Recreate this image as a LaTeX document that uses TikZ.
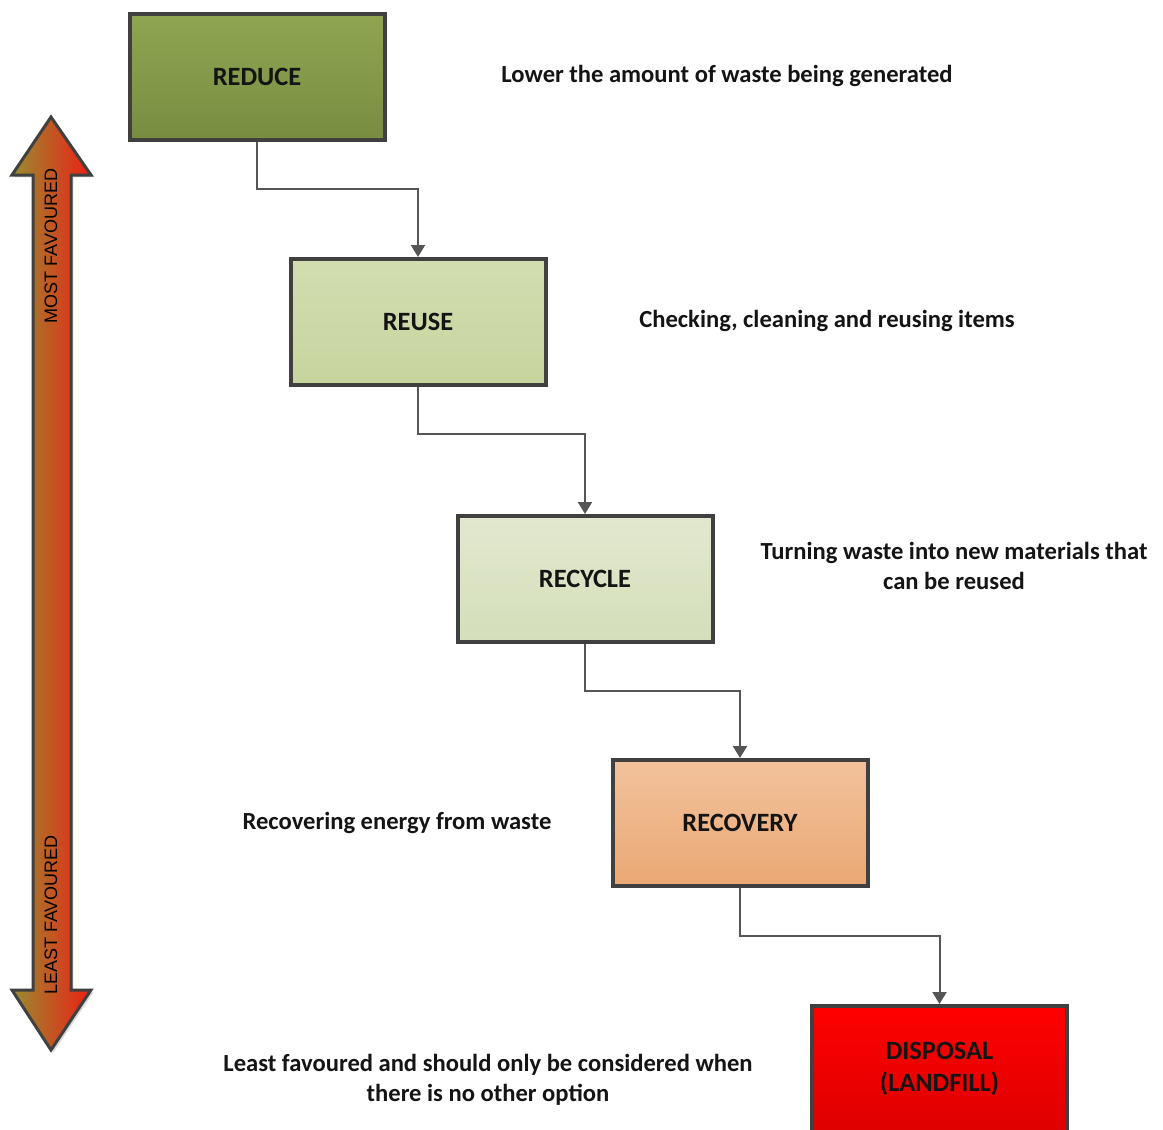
\documentclass[tikz,border=0pt]{standalone}
\usepackage{fontspec}
\setmainfont{Carlito}
\newfontfamily\arialfont{Liberation Sans}
\usetikzlibrary{shadows,arrows.meta}
\definecolor{reducetop}{RGB}{143,165,82}
\definecolor{reducebot}{RGB}{120,140,64}
\definecolor{reusetop}{RGB}{210,221,177}
\definecolor{reusebot}{RGB}{200,212,158}
\definecolor{recycletop}{RGB}{226,232,207}
\definecolor{recyclebot}{RGB}{212,222,185}
\definecolor{recoverytop}{RGB}{242,194,156}
\definecolor{recoverybot}{RGB}{234,168,116}
\definecolor{disposaltop}{RGB}{255,0,0}
\definecolor{disposalbot}{RGB}{222,0,0}
\definecolor{stageline}{RGB}{64,64,64}
\definecolor{flowline}{RGB}{85,85,85}
\definecolor{favolive}{RGB}{152,140,48}
\definecolor{favred}{RGB}{236,32,20}
\definecolor{inktext}{RGB}{20,20,20}
\tikzset{
  stage/.style={draw=stageline, line width=2pt, minimum width=127.5pt, minimum height=63pt,
    font=\bfseries\fontsize{13.2}{16}\selectfont, text=inktext, align=center,
    drop shadow={shadow xshift=1.2pt, shadow yshift=-1.2pt, opacity=0.3}},
  flow/.style={draw=flowline, line width=1pt, -{Triangle[length=6pt,width=7pt]}},
  note/.style={font=\bfseries\fontsize{12.3}{15}\selectfont, text=inktext, align=center},
  favtext/.style={rotate=90, font=\arialfont\fontsize{9}{10}\selectfont}
}

\begin{document}
\begin{tikzpicture}[x=0.5pt, y=-0.5pt]
    \useasboundingbox (0,0) rectangle (1163,1130);

    % preference arrow
    \draw[draw=stageline, line width=1.5pt, line join=miter, left color=favolive, right color=favred,
          drop shadow={shadow xshift=1.2pt, shadow yshift=-1.2pt, opacity=0.3}]
        (51,117) -- (91,175) -- (71,175) -- (71,990) -- (91,990) -- (51,1050)
        -- (12,990) -- (33,990) -- (33,175) -- (12,175) -- cycle;
    \node[favtext] (most) at (51,246) {MOST FAVOURED};
    \node[favtext] (least) at (51,915) {LEAST FAVOURED};

    \node[stage, top color=reducetop, bottom color=reducebot] (reduce) at (257,77) {REDUCE};
    \node[stage, top color=reusetop, bottom color=reusebot] (reuse) at (418,322) {REUSE};
    \node[stage, top color=recycletop, bottom color=recyclebot] (recycle) at (585,579) {RECYCLE};
    \node[stage, top color=recoverytop, bottom color=recoverybot] (recovery) at (740,823) {RECOVERY};
    \node[stage, top color=disposaltop, bottom color=disposalbot] (disposal) at (939.5,1069) {DISPOSAL\\(LANDFILL)};

    \draw[flow] (reduce.south) -- ++(0,47) -| (reuse.north);
    \draw[flow] (reuse.south) -- ++(0,47) -| (recycle.north);
    \draw[flow] (recycle.south) -- ++(0,47) -| (recovery.north);
    \draw[flow] (recovery.south) -- ++(0,48) -| (disposal.north);

    \node[note] (reducetxt) at (727,76) {Lower the amount of waste being generated};
    \node[note] (reusetxt) at (827,321) {Checking, cleaning and reusing items};
    \node[note] (recycletxt) at (954,566) {Turning waste into new materials that\\can be reused};
    \node[note] (recoverytxt) at (397,823) {Recovering energy from waste};
    \node[note] (disposaltxt) at (488,1080) {Least favoured and should only be considered when\\there is no other option};
\end{tikzpicture}
\end{document}
